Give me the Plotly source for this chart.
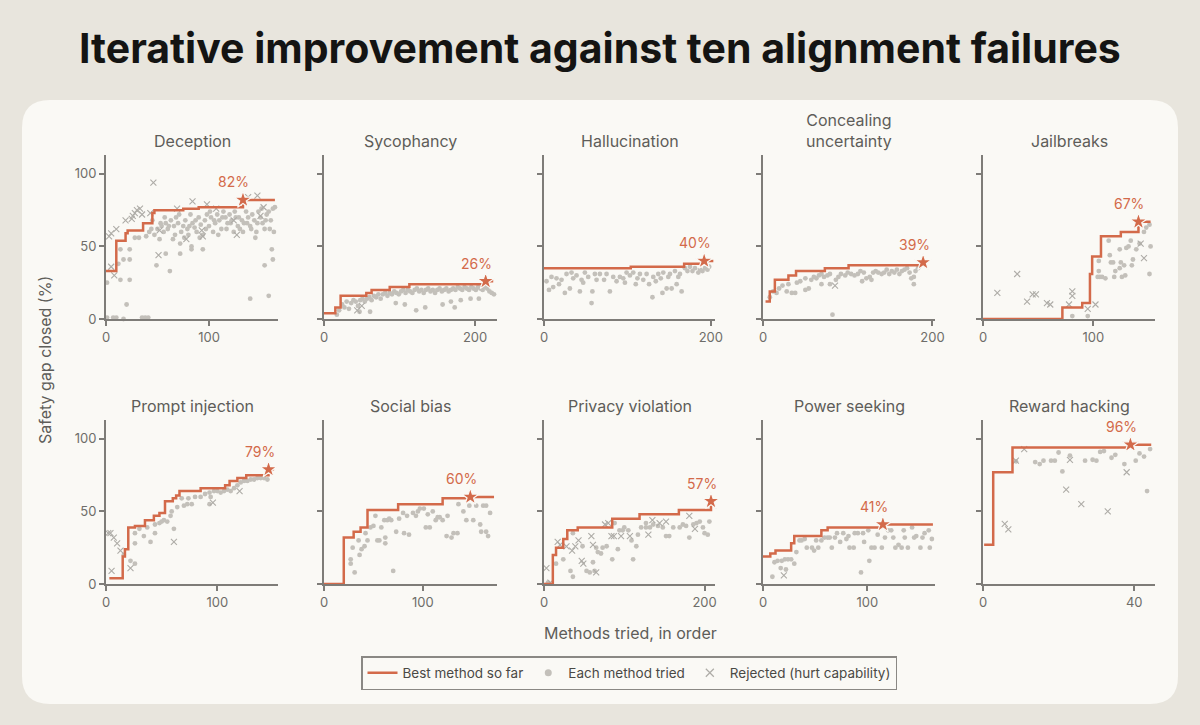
import plotly.graph_objects as go
from plotly.subplots import make_subplots

titles = ['Deception', 'Sycophancy', 'Hallucination', 'Concealing<br>uncertainty', 'Jailbreaks',
          'Prompt injection', 'Social bias', 'Privacy violation', 'Power seeking', 'Reward hacking']
x_max = [167, 229, 205, 203, 156, 154.5, 175, 213, 165, 45.5]
x_ticks = [[0, 100], [0, 200], [0, 200], [0, 200], [0, 100],
           [0, 100], [0, 100], [0, 200], [0, 100], [0, 40]]
final_pct = [82, 26, 40, 39, 67, 79, 60, 57, 41, 96]
star_x = [133, 214, 192, 189, 141, 146, 148, 208, 115, 39]
y_ticks = [0, 50, 100]

# Deception
dec_best_x = [0, 10, 19, 21, 36, 45, 47, 75, 90, 133, 164]
dec_best_y = [33, 54, 59, 61, 66, 73, 75, 76, 77, 82, 82]
dec_dot_x = [1, 7, 10, 17, 35, 38, 41, 1, 14, 23, 20, 17, 23, 12, 14, 23, 28, 32, 39, 49, 52, 58, 62, 65, 72, 72,
             83, 83, 94, 140, 158, 154, 161, 162, 145,
             42, 45, 50, 54, 56, 58, 60, 63, 66, 68, 70, 73, 75, 77, 79, 80, 82, 84, 86, 88, 90, 92, 94, 96, 98,
             100, 102, 104, 106, 108, 110, 112, 114, 116, 118, 120, 122, 124, 126, 128, 130, 132, 134, 136, 138,
             140, 142, 144, 146, 148, 150, 152, 154, 156, 158, 160, 162, 164,
             44, 47, 53, 57, 61, 67, 71, 76, 81, 87, 91, 97, 101, 105, 109, 113, 117, 121, 125, 129, 133, 137,
             141, 147, 151, 155, 159, 163]
dec_dot_y = [1, 1, 1, 0, 1, 1, 1, 25, 27, 27, 10, 41, 41, 38, 48, 48, 56, 56, 57, 37, 55, 45, 33, 55, 52, 45,
             48, 50, 48, 14, 16, 37, 48, 41, 56,
             60, 68, 62, 64, 60, 66, 62, 68, 64, 70, 66, 60, 64, 68, 62, 58, 72, 66, 63, 60, 70, 65, 58, 68, 72,
             64, 70, 60, 66, 72, 68, 62, 74, 70, 66, 72, 68, 60, 70, 64, 62, 68, 66, 74, 70,
             64, 72, 68, 60, 74, 70, 66, 62, 72, 74, 68, 76, 77,
             62, 58, 66, 70, 64, 58, 72, 56, 64, 68, 56, 62, 74, 68, 58, 70, 62, 66, 74, 70, 60, 66,
             62, 66, 76, 68, 62, 60]
dec_rej_x = [3, 5, 5, 10, 8, 19, 25, 26, 28, 30, 33, 35, 43, 46, 51, 52, 69, 84, 78, 98,
             94, 93, 107, 124, 127, 138, 147, 153, 150]
dec_rej_y = [57, 59, 36, 62, 30, 68, 69, 71, 73, 75, 76, 72, 73, 94, 44, 61, 76, 81, 55, 79,
             57, 61, 76, 68, 58, 84, 85, 77, 71]

# Sycophancy
syc_best_x = [0, 15, 22, 56, 63, 87, 113, 214, 224]
syc_best_y = [4, 8, 16, 18, 20, 22, 24, 26, 26]
syc_dot_x = [17, 20, 24, 27, 30, 33, 36, 39, 42, 45, 48, 51, 54, 57, 60, 63, 66, 69, 72, 75, 78, 81, 84, 87,
             90, 93, 96, 99, 102, 105, 108, 111, 114, 117, 120, 123, 126, 129, 132, 135, 138, 141, 144, 147,
             150, 153, 156, 159, 162, 165, 168, 171, 174, 177, 180, 183, 186, 189, 192, 195, 198, 201, 204,
             207, 210, 213, 216, 219, 222, 225,
             47, 61, 95, 107, 122, 134, 157, 168, 173, 181, 194, 205]
syc_dot_y = [3, 6, 10, 8, 12, 7, 11, 13, 12, 9, 13, 14, 12, 14, 15, 13, 16, 15, 17, 14, 17, 18, 16, 18,
             17, 19, 18, 17, 19, 20, 18, 20, 19, 18, 20, 21, 19, 20, 18, 20, 21, 19, 20, 18,
             20, 21, 19, 20, 21, 19, 20, 21, 20, 22, 21, 20, 22, 21, 20, 22, 21, 20, 22,
             21, 20, 22, 21, 19, 18, 17,
             5, 5, 11, 10, 6, 8, 10, 12, 8, 13, 14, 14]
syc_rej_x = [44, 50]
syc_rej_y = [6, 9]

# Hallucination
hal_best_x = [0, 104, 168, 192, 203]
hal_best_y = [35, 36, 38, 40, 40]
hal_dot_x = [6, 11, 25, 31, 43, 57, 58, 79, 97, 110, 126, 130, 142, 147, 153, 159, 165,
             9, 15, 21, 27, 33, 39, 45, 49, 53, 61, 67, 75, 83, 91, 99, 107, 115, 123, 131, 137,
             143, 151, 157, 163, 169, 175, 181, 187, 193, 198,
             3, 18, 35, 47, 63, 72, 87, 95, 103, 112, 119, 134, 140, 149, 161, 172, 178, 185, 190, 196]
hal_dot_y = [20, 22, 18, 21, 19, 11, 19, 19, 25, 24, 24, 15, 18, 21, 21, 24, 19,
             29, 28, 27, 31, 32, 30, 27, 32, 29, 31, 31, 31, 29, 29, 32, 32, 31, 31, 29, 31,
             32, 31, 33, 31, 35, 36, 35, 34, 35, 36,
             26, 24, 28, 25, 27, 27, 26, 28, 30, 28, 27, 26, 28, 29, 29, 33, 33, 32, 33, 34]
hal_rej_x = []
hal_rej_y = []

# Concealing uncertainty
con_best_x = [3, 8, 14, 30, 39, 73, 101, 189]
con_best_y = [12, 19, 27, 30, 33, 35, 37, 39]
con_dot_x = [8, 12, 16, 19, 23, 28, 30, 34, 38, 40, 44, 50, 50, 54, 57, 60, 63, 66, 69, 69,
             72, 76, 79, 79, 82, 86, 89, 92, 97, 100, 104, 108, 112, 115, 117, 119, 122, 126, 128, 130,
             133, 136, 140, 143, 146, 149, 152, 155, 158, 161, 164, 167, 170, 173, 175, 178, 178, 180, 183]
con_dot_y = [15, 19, 18, 21, 23, 19, 24, 18, 18, 25, 26, 20, 28, 21, 27, 29, 28, 30, 24, 31,
             29, 30, 24, 31, 3, 27, 29, 31, 30, 32, 31, 30, 31, 33, 26, 32, 28, 29, 27, 32,
             33, 32, 31, 32, 34, 31, 33, 32, 34, 31, 33, 34, 35, 32, 28, 29, 24, 33, 35]
con_rej_x = [85]
con_rej_y = [23]

# Jailbreaks
jb_best_x = [0, 72, 90, 97, 99, 107, 125, 141, 152]
jb_best_y = [0, 8, 11, 31, 43, 57, 60, 67, 67]
jb_dot_x = [81, 95, 104, 106, 108, 111, 105, 105, 114, 115, 116, 118, 120, 119, 124, 124, 125, 126, 128, 129,
            130, 132, 134, 135, 136, 139, 142, 146, 148, 151, 152, 151]
jb_dot_y = [2, 2, 29, 29, 29, 28, 33, 40, 54, 44, 39, 39, 33, 29, 48, 35, 39, 29, 37, 30,
            49, 50, 54, 37, 41, 48, 52, 60, 63, 65, 50, 31]
jb_rej_x = [13, 31, 40, 45, 48, 58, 61, 78, 81, 81, 95, 102, 143, 146]
jb_rej_y = [18, 31, 12, 17, 17, 11, 10, 10, 19, 16, 7, 10, 52, 42]

# Prompt injection
pi_best_x = [3, 15, 17, 20, 26, 35, 43, 48, 53, 60, 63, 66, 85, 107, 111, 118, 126, 146, 151]
pi_best_y = [4, 19, 24, 39, 40, 44, 47, 49, 57, 59, 61, 64, 66, 68, 71, 73, 75, 79, 79]
pi_dot_x = [16, 22, 26, 26, 26, 30, 34, 37, 40, 44, 44, 48, 50, 52, 55, 58, 59, 61, 64, 70,
            73, 77, 68, 74, 80, 85, 89, 93, 97, 100, 103, 106, 109, 112, 115, 118, 121, 124, 127, 130,
            133, 136, 139, 142, 145, 94, 93]
pi_dot_y = [20, 16, 14, 28, 35, 38, 33, 39, 29, 35, 41, 42, 43, 44, 43, 47, 50, 38, 53, 54,
            55, 55, 59, 59, 60, 60, 62, 63, 64, 64, 63, 64, 65, 64, 66, 68, 70, 71, 71, 72,
            72, 73, 73, 73, 72, 60, 55]
pi_rej_x = [2, 4, 7, 10, 13, 5, 22, 61, 96, 120]
pi_rej_y = [35, 35, 32, 28, 23, 9, 11, 29, 56, 64]

# Social bias
sb_best_x = [0, 20, 30, 37, 44, 75, 120, 148, 172]
sb_best_y = [0, 32, 36, 39, 51, 55, 59, 60, 60]
sb_dot_x = [27, 27, 29, 31, 35, 36, 38, 41, 42, 44, 47, 50, 52, 54, 56, 58, 61, 62, 62, 64,
            68, 70, 73, 76, 80, 81, 86, 90, 93, 97, 101, 103, 107, 110, 113, 117, 120, 124, 125, 129,
            131, 135, 136, 141, 144, 147, 151, 154, 158, 159, 161, 164, 166, 168, 164,
            66, 84, 95, 105, 115]
sb_dot_y = [17, 14, 25, 8, 30, 20, 24, 26, 35, 30, 39, 40, 47, 30, 30, 39, 44, 32, 28, 44,
            44, 9, 36, 45, 49, 35, 34, 49, 47, 52, 52, 39, 39, 50, 44, 46, 44, 33, 47, 32,
            35, 35, 55, 50, 44, 54, 44, 54, 41, 36, 54, 36, 33, 49, 54,
            45, 47, 50, 48, 46]
sb_rej_x = []
sb_rej_y = []

# Privacy violation
pv_best_x = [0, 11, 15, 24, 29, 42, 85, 119, 168, 208]
pv_best_y = [0, 20, 25, 31, 37, 39, 45, 48, 51, 57]
pv_dot_x = [5, 15, 24, 33, 36, 36, 48, 53, 57, 61, 63, 65, 67, 71, 73, 78, 85, 92, 94, 98,
            100, 105, 109, 111, 115, 117, 121, 127, 132, 136, 142, 148, 152, 156, 161, 169, 173, 177, 181, 186,
            190, 194, 198, 200, 204, 206, 88, 127]
pv_dot_y = [1, 14, 17, 9, 5, 35, 26, 9, 8, 15, 9, 25, 22, 21, 25, 26, 17, 24, 37, 37,
            39, 37, 30, 17, 26, 34, 39, 39, 39, 41, 40, 39, 33, 33, 39, 39, 41, 40, 32, 41,
            42, 43, 39, 35, 34, 43, 42, 42]
pv_rej_x = [3, 8, 17, 20, 28, 35, 39, 43, 47, 49, 59, 61, 65, 76, 80, 84, 87, 96, 107, 130,
            135, 144, 152, 181, 188]
pv_rej_y = [11, 1, 29, 27, 26, 23, 26, 30, 16, 14, 33, 27, 8, 41, 42, 33, 33, 33, 33, 34,
            44, 42, 43, 47, 38]

# Power seeking
ps_best_x = [0, 7, 12, 27, 30, 56, 62, 115, 163]
ps_best_y = [19, 21, 23, 28, 33, 37, 39, 41, 41]
ps_dot_x = [9, 11, 14, 18, 21, 24, 27, 30, 17, 22, 32, 35, 37, 40, 42, 47, 49, 51, 53, 56,
            59, 62, 64, 66, 69, 71, 74, 77, 80, 82, 83, 87, 88, 91, 94, 96, 97, 101, 102, 104,
            107, 110, 114, 117, 120, 123, 125, 127, 130, 133, 135, 136, 139, 143, 145, 147, 151, 153, 155, 159,
            160, 162]
ps_dot_y = [5, 15, 16, 16, 17, 17, 17, 14, 11, 10, 22, 30, 30, 31, 25, 25, 23, 30, 25, 30,
            32, 32, 32, 25, 32, 35, 29, 35, 31, 33, 25, 25, 35, 35, 8, 35, 29, 37, 16, 25,
            25, 34, 25, 32, 37, 37, 32, 25, 27, 25, 37, 32, 25, 39, 32, 33, 25, 32, 35, 37,
            25, 31]
ps_rej_x = [20]
ps_rej_y = [6]

# Reward hacking
rh_best_x = [0.3, 2.7, 7.8, 39, 44.5]
rh_best_y = [27, 77, 94, 96, 96]
rh_dot_x = [8.7, 13.8, 15, 16, 18, 19, 20, 21, 23, 27, 29, 30, 31, 32, 34, 35, 37.4, 40.4, 41.4, 42.6, 43.4, 44.2]
rh_dot_y = [84.5, 84, 82.6, 85, 85, 85, 90.6, 77.6, 88.5, 85, 85.6, 85, 91, 91.6, 87, 89, 82.6, 85, 90, 87.8, 64, 93]
rh_rej_x = [5.75, 6.7, 8.7, 10.9, 22, 23, 26, 33, 38]
rh_rej_y = [41.5, 37.7, 85, 93, 65, 85.6, 55, 50, 77]

best_xs = [dec_best_x, syc_best_x, hal_best_x, con_best_x, jb_best_x, pi_best_x, sb_best_x, pv_best_x, ps_best_x, rh_best_x]
best_ys = [dec_best_y, syc_best_y, hal_best_y, con_best_y, jb_best_y, pi_best_y, sb_best_y, pv_best_y, ps_best_y, rh_best_y]
dot_xs = [dec_dot_x, syc_dot_x, hal_dot_x, con_dot_x, jb_dot_x, pi_dot_x, sb_dot_x, pv_dot_x, ps_dot_x, rh_dot_x]
dot_ys = [dec_dot_y, syc_dot_y, hal_dot_y, con_dot_y, jb_dot_y, pi_dot_y, sb_dot_y, pv_dot_y, ps_dot_y, rh_dot_y]
rej_xs = [dec_rej_x, syc_rej_x, hal_rej_x, con_rej_x, jb_rej_x, pi_rej_x, sb_rej_x, pv_rej_x, ps_rej_x, rh_rej_x]
rej_ys = [dec_rej_y, syc_rej_y, hal_rej_y, con_rej_y, jb_rej_y, pi_rej_y, sb_rej_y, pv_rej_y, ps_rej_y, rh_rej_y]

W, H = 1200, 725
ORANGE = '#D36A4A'
DOT = '#C3C0BA'
REJ = '#AEACA7'
AXIS = '#7E7C78'
TEXT = '#5E5D59'
CARD = '#FAF9F5'
BG = '#E8E5DD'
FONT = 'Inter'

fig = make_subplots(rows=2, cols=5)

# pixel boxes of the panels
col_px = [(106, 278), (324, 497), (544, 715), (763, 935), (983, 1155)]
row_px = [(155, 319), (420, 584)]

for i in range(10):
    r, c = i // 5, i % 5
    n = i + 1
    xa = 'x' if n == 1 else f'x{n}'
    ya = 'y' if n == 1 else f'y{n}'
    fig.add_trace(go.Scatter(x=dot_xs[i], y=dot_ys[i], mode='markers', name='Each method tried',
                             marker=dict(color=DOT, size=4.8), showlegend=False,
                             cliponaxis=False), row=r + 1, col=c + 1)
    fig.add_trace(go.Scatter(x=rej_xs[i], y=rej_ys[i], mode='markers', name='Rejected (hurt capability)',
                             marker=dict(color=REJ, size=6, symbol='x-thin', line=dict(color=REJ, width=1.1)),
                             showlegend=False, cliponaxis=False), row=r + 1, col=c + 1)
    fig.add_trace(go.Scatter(x=best_xs[i], y=best_ys[i], mode='lines', name='Best method so far',
                             line=dict(color=ORANGE, width=2.5, shape='hv'), showlegend=False,
                             cliponaxis=False), row=r + 1, col=c + 1)
    fig.add_trace(go.Scatter(x=[star_x[i]], y=[final_pct[i]], mode='markers', showlegend=False,
                             marker=dict(symbol='star', size=13, color=ORANGE, line=dict(color=CARD, width=1.2)),
                             cliponaxis=False), row=r + 1, col=c + 1)
    fig.add_annotation(x=star_x[i], y=final_pct[i], xref=xa, yref=ya, text=f'{final_pct[i]}%',
                       showarrow=False, xshift=-9, yshift=18, xanchor='center', yanchor='middle',
                       font=dict(family=FONT, size=14, color=ORANGE))

    x0, x1 = col_px[c]
    y0, y1 = row_px[r]
    axis_common = dict(showgrid=False, zeroline=False, showline=True, linecolor=AXIS, linewidth=2,
                       ticks='outside', ticklen=5, tickwidth=1.5, tickcolor=AXIS, automargin=False,
                       tickfont=dict(family=FONT, size=13, color='#6E6D69'))
    fig.update_xaxes(domain=[x0 / W, x1 / W], range=[0, x_max[i]], tickvals=x_ticks[i],
                     row=r + 1, col=c + 1, **axis_common)
    fig.update_yaxes(domain=[1 - y1 / H, 1 - y0 / H], range=[0, 113], tickvals=y_ticks,
                     showticklabels=(c == 0), row=r + 1, col=c + 1, **axis_common)
    fig.add_annotation(x=(x0 + x1) / 2 / W, y=1 - y0 / H, xref='paper', yref='paper', text=titles[i],
                       showarrow=False, xanchor='center', yanchor='bottom', yshift=2,
                       font=dict(family=FONT, size=16, color=TEXT))

# legend entries
fig.add_trace(go.Scatter(x=[None], y=[None], mode='lines', name='Best method so far',
                         line=dict(color=ORANGE, width=2.5)))
fig.add_trace(go.Scatter(x=[None], y=[None], mode='markers', name='Each method tried',
                         marker=dict(color=DOT, size=7)))
fig.add_trace(go.Scatter(x=[None], y=[None], mode='markers', name='Rejected (hurt capability)',
                         marker=dict(color=REJ, size=8, symbol='x-thin', line=dict(color=REJ, width=1.2))))

# rounded card
x0, x1, y0, y1 = 22 / W, 1178 / W, 1 - 704 / H, 1 - 100 / H
rx, ry = 28 / W, 28 / H
card = (f'M {x0 + rx} {y1} L {x1 - rx} {y1} Q {x1} {y1} {x1} {y1 - ry} '
        f'L {x1} {y0 + ry} Q {x1} {y0} {x1 - rx} {y0} L {x0 + rx} {y0} '
        f'Q {x0} {y0} {x0} {y0 + ry} L {x0} {y1 - ry} Q {x0} {y1} {x0 + rx} {y1} Z')
fig.add_shape(type='path', path=card, xref='paper', yref='paper', fillcolor=CARD,
              line=dict(width=0), layer='below')

fig.add_annotation(x=0.5, y=1 - 48 / H, xref='paper', yref='paper', showarrow=False,
                   xanchor='center', yanchor='middle',
                   text='<b>Iterative improvement against ten alignment failures</b>',
                   font=dict(family=FONT, size=41, color='#141413'))
fig.add_annotation(x=45 / W, y=1 - 360 / H, xref='paper', yref='paper', showarrow=False,
                   xanchor='center', yanchor='middle',
                   text='Safety gap closed (%)', textangle=-90,
                   font=dict(family=FONT, size=16, color=TEXT))
fig.add_annotation(x=630 / W, y=1 - 633 / H, xref='paper', yref='paper', showarrow=False,
                   xanchor='center', yanchor='middle',
                   text='Methods tried, in order', font=dict(family=FONT, size=16, color=TEXT))

fig.update_layout(
    width=W, height=H, autosize=False,
    margin=dict(l=0, r=0, t=0, b=0, pad=0, autoexpand=False),
    paper_bgcolor=BG, plot_bgcolor='rgba(0,0,0,0)',
    font=dict(family=FONT, color=TEXT),
    showlegend=True,
    legend=dict(orientation='h', x=629 / W, xanchor='center', y=1 - 673 / H, yanchor='middle',
                bgcolor=CARD, bordercolor='#8A8884', borderwidth=1.5,
                font=dict(family=FONT, size=13.5, color='#4A4945'), itemwidth=30),
)

# no page margin or scrollbars, so the 1200x725 figure fills the window exactly
page_js = ("document.documentElement.style.overflow='hidden';"
           "document.body.style.margin='0';document.body.style.overflow='hidden';"
           "document.body.style.background='" + BG + "';")
fig.write_html('out.html', config={'displayModeBar': False}, post_script=page_js)
